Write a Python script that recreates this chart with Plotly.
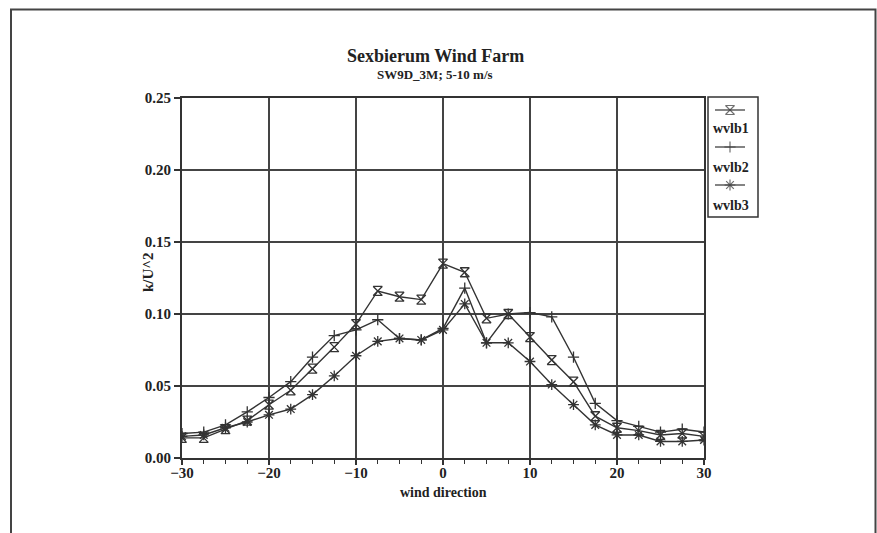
import plotly.graph_objects as go

# ---- data ----
wind_direction = [-30, -27.5, -25, -22.5, -20, -17.5, -15, -12.5, -10, -7.5, -5, -2.5,
                  0, 2.5, 5, 7.5, 10, 12.5, 15, 17.5, 20, 22.5, 25, 27.5, 30]
wvlb1 = [0.014, 0.014, 0.020, 0.026, 0.037, 0.047, 0.062, 0.077, 0.093, 0.116, 0.112, 0.110,
         0.135, 0.129, 0.097, 0.100, 0.084, 0.068, 0.053, 0.029, 0.021, 0.019, 0.016, 0.017, 0.015]
wvlb2 = [0.017, 0.018, 0.023, 0.032, 0.042, 0.053, 0.070, 0.085, 0.089, 0.096, 0.083, 0.082,
         0.090, 0.118, 0.080, 0.100, 0.101, 0.098, 0.070, 0.038, 0.026, 0.022, 0.018, 0.020, 0.018]
wvlb3 = [0.015, 0.016, 0.021, 0.025, 0.030, 0.034, 0.044, 0.057, 0.071, 0.081, 0.083, 0.082,
         0.089, 0.107, 0.080, 0.080, 0.067, 0.051, 0.037, 0.023, 0.016, 0.016, 0.0115, 0.0115, 0.0125]
series_names = ["wvlb1", "wvlb2", "wvlb3"]
series_values = [wvlb1, wvlb2, wvlb3]
x_ticks = [-30, -20, -10, 0, 10, 20, 30]
y_ticks = [0.00, 0.05, 0.10, 0.15, 0.20, 0.25]
title_text = "Sexbierum Wind Farm"
subtitle_text = "SW9D_3M; 5-10 m/s"

# ---- style ----
W, H = 877, 533
L, R, T, B = 182, 117, 98, 75
PW, PH = W - L - R, H - T - B
def px(xp): return (xp - L) / PW
def py(yp): return (T + PH - yp) / PH

INK = "#333333"
TXT = "#222222"
FONT = "Liberation Serif"
symbols = ["hourglass-open", "cross-thin-open", "asterisk-open"]
msizes = [9, 8, 9]

fig = go.Figure()
for name, vals, sym, ms in zip(series_names, series_values, symbols, msizes):
    fig.add_trace(go.Scatter(
        x=wind_direction, y=vals, mode="lines+markers", name=name,
        line=dict(color=INK, width=1.4),
        marker=dict(symbol=sym, size=ms, color=INK, line=dict(color=INK, width=1.3)),
        showlegend=False, xaxis="x", yaxis="y"))

# custom legend glyphs (line with marker in middle, label below)
leg_y = [110, 147, 185]
lab_y = [128, 167, 205]
for name, sym, ms, ly, ty in zip(series_names, symbols, msizes, leg_y, lab_y):
    fig.add_trace(go.Scatter(
        x=[715, 730, 745], y=[ly, ly, ly], mode="lines+markers",
        line=dict(color=INK, width=1.2),
        marker=dict(symbol=sym, size=[0, ms, 0], color=INK, line=dict(color=INK, width=1.2)),
        showlegend=False, hoverinfo="skip", xaxis="x2", yaxis="y2"))
    fig.add_annotation(x=731, y=ty, xref="x2", yref="y2", text=name, showarrow=False,
                       xanchor="center", yanchor="middle",
                       font=dict(family=FONT, size=14, color=TXT, weight="bold"))

axis_font = dict(family=FONT, size=15, color=TXT, weight="bold")
fig.update_layout(
    width=W, height=H, margin=dict(l=L, r=R, t=T, b=B),
    paper_bgcolor="white", plot_bgcolor="white",
    xaxis=dict(domain=[0, (704 - L) / PW], range=[-30, 30], tickvals=x_ticks,
               ticks="outside", ticklen=5, tickwidth=1.5, tickcolor=INK,
               minor=dict(dtick=2.5, ticks="outside", ticklen=4, tickwidth=1, tickcolor=INK),
               showgrid=True, gridcolor="#444", gridwidth=1.5,
               showline=True, linecolor=INK, linewidth=2, mirror=True,
               zeroline=False, tickfont=axis_font, ticklabelstandoff=-5),
    yaxis=dict(domain=[0, 1], range=[0, 0.25], tickvals=y_ticks, tickformat=".2f",
               ticks="outside", ticklen=6, tickwidth=1.5, tickcolor=INK,
               showgrid=True, gridcolor="#444", gridwidth=1.5,
               showline=True, linecolor=INK, linewidth=2, mirror=True,
               zeroline=False, tickfont=axis_font),
    xaxis2=dict(domain=[px(708), px(758)], range=[708, 758], visible=False, fixedrange=True),
    yaxis2=dict(domain=[py(217), 1], range=[217, T], visible=False, fixedrange=True,
                anchor="x2"),
)

# legend box
fig.add_shape(type="rect", xref="paper", yref="paper",
              x0=px(708), x1=px(758), y0=py(217), y1=py(97),
              line=dict(color=INK, width=1.5))
# outer frame
fig.add_shape(type="rect", xref="paper", yref="paper",
              x0=px(11), x1=px(875.5), y0=py(545), y1=py(9.5),
              line=dict(color="#444", width=2))

# titles
def label(xp, yp, text, size, angle=0):
    fig.add_annotation(x=px(xp), y=py(yp), xref="paper", yref="paper", text=text,
                       showarrow=False, xanchor="center", yanchor="middle", textangle=angle,
                       font=dict(family=FONT, size=size, color=TXT, weight="bold"))

label(435, 56, title_text, 18)
label(435, 74, subtitle_text, 13)
label(443, 492, "wind direction", 14)
label(148, 272, "k/U^2", 15, -90)

fig.write_html("out.html")
